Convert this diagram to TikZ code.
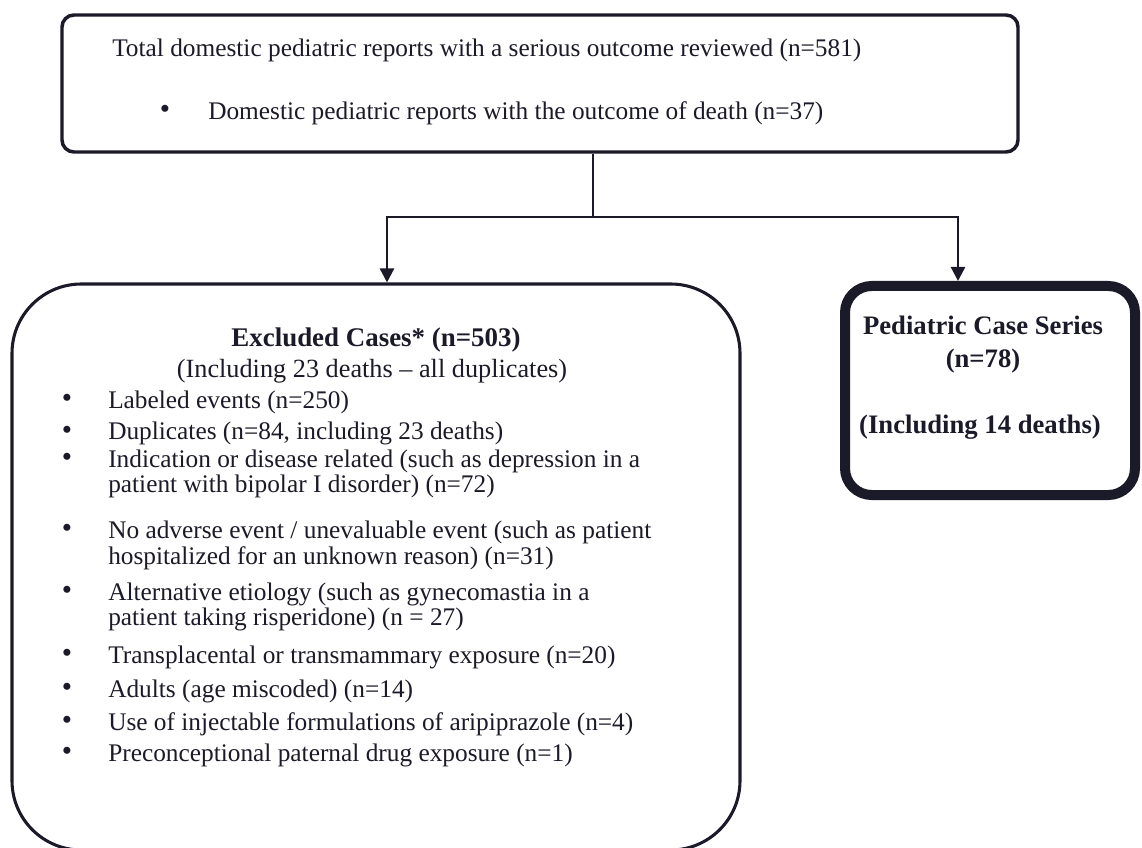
\documentclass[tikz,border=0pt]{standalone}
\usepackage{fontspec}
\setmainfont{Liberation Serif}
\usetikzlibrary{arrows.meta,fit}
\definecolor{ink}{HTML}{1B1A28}
\tikzset{
  box/.style={draw=ink,inner sep=0pt},
  txt/.style={anchor=base west,inner sep=0pt,text=ink,font=\fontsize{19}{22}\selectfont},
  bul/.style={inner sep=0pt,text=ink,font=\fontsize{22}{22}\selectfont},
  hd/.style={anchor=base,inner sep=0pt,text=ink,font=\fontsize{20.2}{22}\selectfont\bfseries},
  big/.style={anchor=base,inner sep=0pt,text=ink,font=\fontsize{20}{22}\selectfont\bfseries},
  link/.style={draw=ink,line width=1.8pt},
  tip/.style={-{Triangle[length=10.5pt,width=10.5pt]}}
}
\begin{document}
\begin{tikzpicture}[x=0.75pt,y=-0.75pt]
\useasboundingbox (0,0) rectangle (1142,848);
% the three boxes
\node (top) [box,line width=2.6pt,rounded corners=9pt,fit={(62,15) (1018,152)}] {};
\node (excl) [box,line width=2.3pt,rounded corners=52pt,fit={(12,284) (740,850)}] {};
\node (cases) [box,line width=7.5pt,rounded corners=20pt,fit={(845,286) (1135,495)}] {};
%
\node (t0) [txt] at (112,57) {Total domestic pediatric reports with a serious outcome reviewed (n=581)};
\node (b0) [bul] at (165,112) {\textbullet};
\node (t00) [txt] at (208,120) {Domestic pediatric reports with the outcome of death (n=37)};
%
\node (hd) [hd] at (376,347) {Excluded Cases* (n=503)};
\node (sub) [txt,anchor=base,font=\fontsize{19.7}{22}\selectfont] at (372,378) {(Including 23 deaths -- all duplicates)};
\node (b1) [bul] at (67,401) {\textbullet};
\node (t1) [txt] at (108,408) {Labeled events (n=250)};
\node (b2) [bul] at (67,433) {\textbullet};
\node (t2) [txt] at (108,440) {Duplicates (n=84, including 23 deaths)};
\node (b3) [bul] at (67,460) {\textbullet};
\node (t3) [txt] at (108,467) {Indication or disease related (such as depression in a};
\node (t3a) [txt] at (108,492) {patient with bipolar I disorder) (n=72)};
\node (b4) [bul] at (67,531) {\textbullet};
\node (t4) [txt] at (108,538) {No adverse event / unevaluable event (such as patient};
\node (t4a) [txt] at (108,564) {hospitalized for an unknown reason) (n=31)};
\node (b5) [bul] at (67,593) {\textbullet};
\node (t5) [txt] at (108,600) {Alternative etiology (such as gynecomastia in a};
\node (t5a) [txt] at (108,625) {patient taking risperidone) (n = 27)};
\node (b6) [bul] at (67,656) {\textbullet};
\node (t6) [txt] at (108,663) {Transplacental or transmammary exposure (n=20)};
\node (b7) [bul] at (67,690) {\textbullet};
\node (t7) [txt] at (108,697) {Adults (age miscoded) (n=14)};
\node (b8) [bul] at (67,723) {\textbullet};
\node (t8) [txt] at (108,730) {Use of injectable formulations of aripiprazole (n=4)};
\node (b9) [bul] at (67,754) {\textbullet};
\node (t9) [txt] at (108,761) {Preconceptional paternal drug exposure (n=1)};
%
\node (c1) [big] at (983,335) {Pediatric Case Series};
\node (c2) [big] at (983,368) {(n=78)};
\node (c3) [big] at (980,433) {(Including 14 deaths)};
%
\coordinate (split) at (593,217);
\coordinate (lj) at (387,217);
\coordinate (rj) at (958,217);
\draw[link] (top.south -| split) -- (split);
\draw[link,line cap=rect] (lj) -- (rj);
\draw[link,tip] (lj) -- (lj |- excl.north);
\draw[link,tip] (rj) -- (rj |- cases.north);
\end{tikzpicture}
\end{document}
